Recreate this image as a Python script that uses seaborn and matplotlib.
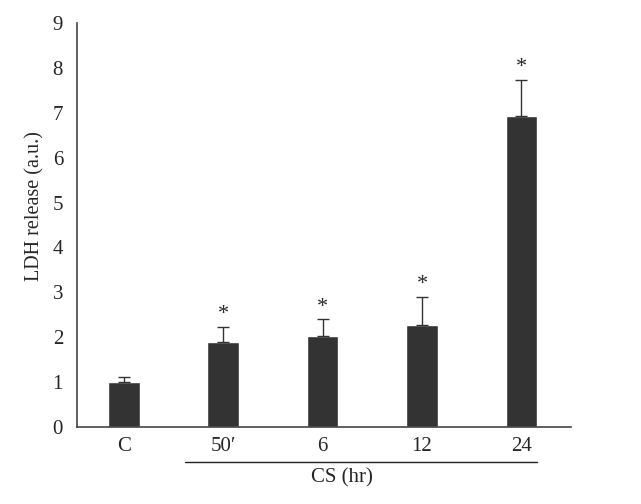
import numpy as np
import pandas as pd
import matplotlib
matplotlib.use('Agg')
import matplotlib.pyplot as plt
import seaborn as sns

groups = ['C', '50\u2032', '6', '12', '24']
ldh = [1.0, 1.9, 2.03, 2.27, 6.93]
err = [0.12, 0.33, 0.37, 0.63, 0.81]
signif = ['', '*', '*', '*', '*']

df = pd.DataFrame({'group': groups, 'ldh': ldh})

sns.set_style('white')
plt.rcParams['font.family'] = ['Liberation Serif', 'DejaVu Serif']

fig = plt.figure(figsize=(6.41, 5.04), dpi=100)
ax = fig.add_axes([0.120, 0.153, 0.771, 0.801])

sns.barplot(x='group', y='ldh', data=df, color='#333333', width=0.32,
            errorbar=None, saturation=1, ax=ax)

x = np.arange(len(groups))
ax.errorbar(x, ldh, yerr=[np.zeros(len(err)), err], fmt='none',
            ecolor='#333333', elinewidth=1, capsize=4, capthick=1)

# asterisks above error bars
for xi, v, e, s in zip(x, ldh, err, signif):
    if s:
        ax.text(xi, v + e + 0.06, s, ha='center', va='bottom', fontsize=16)

ax.set_ylim(0, 9)
ax.set_xlim(-0.47, 4.5)
ax.set_yticks(range(10))
ax.set_xlabel('')
ax.set_ylabel('LDH release (a.u.)', fontsize=14.5)
ax.yaxis.set_label_coords(-0.066, 0.547)
ax.tick_params(axis='both', length=0, labelsize=15)
ax.tick_params(axis='x', pad=7)
ax.tick_params(axis='y', pad=10)

for side in ['top', 'right']:
    ax.spines[side].set_visible(False)
for side in ['left', 'bottom']:
    ax.spines[side].set_color('#444444')
    ax.spines[side].set_linewidth(1.2)

# bracket line under CS groups
ax.plot([0.62, 4.16], [-0.78, -0.78], color='#222222', lw=1, clip_on=False)
ax.text(2.2, -0.93, 'CS (hr)', ha='center', va='top', fontsize=15)

plt.savefig('out.png', dpi=100)
